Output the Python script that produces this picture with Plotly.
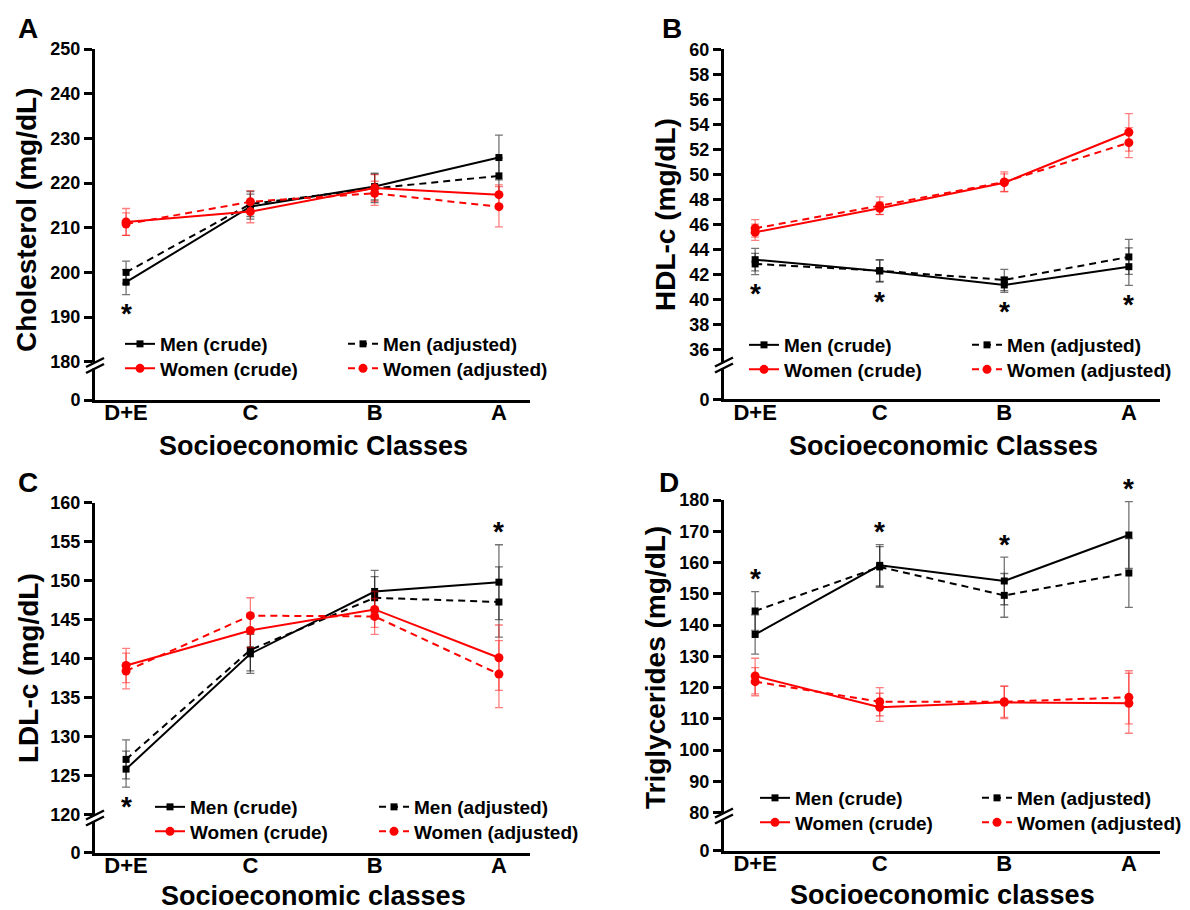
import plotly.graph_objects as go

W, H = 1190, 910

categories = ["D+E", "C", "B", "A"]
legend_names = ["Men (crude)", "Men (adjusted)", "Women (crude)", "Women (adjusted)"]

# ---- Panel A: Cholesterol ----
a_men_crude = [197.8, 214.7, 219.2, 225.7]
a_men_crude_err = [2.8, 2.8, 3.0, 5.0]
a_men_adj = [200.0, 215.3, 218.8, 221.6]
a_men_adj_err = [2.5, 2.8, 3.2, 4.0]
a_women_crude = [211.3, 213.6, 218.9, 217.4]
a_women_crude_err = [3.0, 2.5, 3.0, 2.2]
a_women_adj = [210.8, 215.8, 217.7, 214.7]
a_women_adj_err = [2.5, 2.5, 2.7, 4.5]
a_stars = ["below", None, None, None]

# ---- Panel B: HDL-c ----
b_men_crude = [43.17, 42.27, 41.15, 42.61]
b_men_crude_err = [0.9, 0.9, 0.6, 1.5]
b_men_adj = [42.83, 42.29, 41.55, 43.39]
b_men_adj_err = [0.85, 0.85, 0.85, 1.4]
b_women_crude = [45.36, 47.28, 49.33, 53.36]
b_women_crude_err = [0.65, 0.5, 0.7, 1.5]
b_women_adj = [45.68, 47.49, 49.39, 52.53]
b_women_adj_err = [0.7, 0.7, 0.8, 1.2]
b_stars = ["below", "below", "below", "below"]

# ---- Panel C: LDL-c ----
c_men_crude = [125.8, 140.6, 148.6, 149.8]
c_men_crude_err = [2.3, 2.5, 2.7, 4.8]
c_men_adj = [127.05, 141.1, 147.8, 147.25]
c_men_adj_err = [2.5, 2.7, 2.7, 4.5]
c_women_crude = [139.1, 143.6, 146.3, 140.1]
c_women_crude_err = [2.2, 2.2, 2.3, 4.2]
c_women_adj = [138.4, 145.5, 145.4, 138.0]
c_women_adj_err = [2.3, 2.3, 2.3, 4.3]
c_stars = ["below", None, None, "above"]

# ---- Panel D: Triglycerides ----
d_men_crude = [137.0, 159.1, 154.1, 168.8]
d_men_crude_err = [6.3, 6.6, 7.6, 10.7]
d_men_adj = [144.5, 158.6, 149.5, 156.65]
d_men_adj_err = [6.2, 6.5, 7.0, 11.0]
d_women_crude = [123.7, 113.7, 115.3, 115.0]
d_women_crude_err = [5.7, 4.5, 5.2, 9.6]
d_women_adj = [121.9, 115.5, 115.5, 116.9]
d_women_adj_err = [4.5, 4.5, 5.0, 8.5]
d_stars = ["above", "above", "above", "above"]

FONT = "Liberation Sans, Arial, sans-serif"
BLACK = "#000000"
RED = "#ff0000"


def px_x(p):
    return p / W


def px_y(p):
    return (H - p) / H


# layout geometry (pixels)
panels = [
    dict(letter="A", ytitle="Cholesterol (mg/dL)", xtitle="Socioeconomic Classes",
         data=(a_men_crude, a_men_crude_err, a_men_adj, a_men_adj_err,
               a_women_crude, a_women_crude_err, a_women_adj, a_women_adj_err),
         stars=a_stars, yr=(180, 250), dtick=10,
         x0=95, x1=530, ytop=49, ylow=361.7, yzero=400, brk=365.5,
         letter_xy=(16, 28), ytitle_xy=(26, 220), xtitle_xy=(313, 446),
         leg=[(120, 344), (343, 344)]),
    dict(letter="B", ytitle="HDL-c (mg/dL)", xtitle="Socioeconomic Classes",
         data=(b_men_crude, b_men_crude_err, b_men_adj, b_men_adj_err,
               b_women_crude, b_women_crude_err, b_women_adj, b_women_adj_err),
         stars=b_stars, yr=(36, 60), dtick=2,
         x0=724, x1=1160, ytop=49.3, ylow=349.3, yzero=399.3, brk=365,
         letter_xy=(660, 29), ytitle_xy=(665, 215), xtitle_xy=(943, 446),
         leg=[(744, 345), (967, 345)]),
    dict(letter="C", ytitle="LDL-c (mg/dL)", xtitle="Socioeconomic classes",
         data=(c_men_crude, c_men_crude_err, c_men_adj, c_men_adj_err,
               c_women_crude, c_women_crude_err, c_women_adj, c_women_adj_err),
         stars=c_stars, yr=(120, 160), dtick=5,
         x0=95, x1=530, ytop=502.7, ylow=814.3, yzero=852.7, brk=818,
         letter_xy=(16, 482), ytitle_xy=(28, 668), xtitle_xy=(313, 896),
         leg=[(150, 807), (374, 807)]),
    dict(letter="D", ytitle="Triglycerides (mg/dL)", xtitle="Socioeconomic classes",
         data=(d_men_crude, d_men_crude_err, d_men_adj, d_men_adj_err,
               d_women_crude, d_women_crude_err, d_women_adj, d_women_adj_err),
         stars=d_stars, yr=(80, 180), dtick=10,
         x0=724, x1=1160, ytop=500, ylow=812.7, yzero=850.7, brk=816,
         letter_xy=(657, 482), ytitle_xy=(655, 668), xtitle_xy=(942, 895),
         leg=[(755, 798), (977, 798)]),
]

ROW_GAP = 24.5  # pixel distance between legend rows

fig = go.Figure()
layout = dict(width=W, height=H, margin=dict(l=0, r=0, t=0, b=0),
              paper_bgcolor="white", plot_bgcolor="rgba(0,0,0,0)",
              font=dict(family=FONT, color=BLACK), showlegend=True)
annotations = []
shapes = []

styles = [
    dict(color=BLACK, dash="solid", symbol="square", size=7, ecol="rgba(0,0,0,0.55)"),
    dict(color=BLACK, dash="7px,5px", symbol="square", size=7, ecol="rgba(0,0,0,0.55)"),
    dict(color=RED, dash="solid", symbol="circle", size=9, ecol="rgba(255,0,0,0.5)"),
    dict(color=RED, dash="7px,5px", symbol="circle", size=9, ecol="rgba(255,0,0,0.5)"),
]
# legend cell (column, row) for each series
leg_cell = [(0, 0), (1, 0), (0, 1), (1, 1)]

for i, p in enumerate(panels):
    xa = "x" if i == 0 else f"x{i + 1}"
    yu_n = 2 * i + 1
    yl_n = 2 * i + 2
    yu = "y" if yu_n == 1 else f"y{yu_n}"
    yl = f"y{yl_n}"
    xkey = "xaxis" if i == 0 else f"xaxis{i + 1}"
    yukey = "yaxis" if yu_n == 1 else f"yaxis{yu_n}"
    ylkey = f"yaxis{yl_n}"

    layout[xkey] = dict(
        domain=[px_x(p["x0"]), px_x(p["x1"])], anchor=yl, type="category",
        categoryorder="array", categoryarray=categories, range=[-0.25, 3.25],
        showline=True, linecolor=BLACK, linewidth=3, ticks="", showgrid=False,
        zeroline=False, tickfont=dict(family=FONT, size=22, color=BLACK, weight="bold"),
        ticklabelstandoff=-9, automargin=False, fixedrange=True)
    layout[yukey] = dict(
        domain=[px_y(p["ylow"]), px_y(p["ytop"])], anchor=xa, range=list(p["yr"]),
        dtick=p["dtick"], tick0=p["yr"][0], showline=True, linecolor=BLACK, linewidth=3,
        ticks="outside", ticklen=8, tickwidth=3, tickcolor=BLACK, showgrid=False,
        zeroline=False, tickfont=dict(family=FONT, size=18, color=BLACK, weight="bold"),
        automargin=False, fixedrange=True)
    layout[ylkey] = dict(
        domain=[px_y(p["yzero"]), px_y(p["ylow"])], anchor=xa, range=[0, 1],
        tickvals=[0], ticktext=["0"], showline=True, linecolor=BLACK, linewidth=3,
        ticks="outside", ticklen=8, tickwidth=3, tickcolor=BLACK, showgrid=False,
        zeroline=False, tickfont=dict(family=FONT, size=18, color=BLACK, weight="bold"),
        automargin=False, fixedrange=True)

    # empty trace so the lower (0) segment of the broken axis exists as a subplot
    fig.add_trace(go.Scatter(x=categories, y=[None] * len(categories), xaxis=xa, yaxis=yl,
                             mode="markers", showlegend=False, hoverinfo="skip"))

    vals = p["data"]
    for k in range(4):
        st = styles[k]
        col, row = leg_cell[k]
        leg_idx = 4 * i + k + 1
        legname = "legend" if leg_idx == 1 else f"legend{leg_idx}"
        gx, gy = p["leg"][col]
        layout["legend" if leg_idx == 1 else f"legend{leg_idx}"] = dict(
            x=px_x(gx), y=px_y(gy + row * ROW_GAP), xref="paper", yref="paper",
            xanchor="left", yanchor="middle", bgcolor="rgba(0,0,0,0)", borderwidth=0,
            itemwidth=30,
            font=dict(family=FONT, size=19, color=BLACK, weight="bold"))
        fig.add_trace(go.Scatter(
            x=categories, y=vals[2 * k], xaxis=xa, yaxis=yu,
            name=legend_names[k], legend=legname, mode="lines+markers",
            line=dict(color=st["color"], width=2, dash=st["dash"]),
            marker=dict(symbol=st["symbol"], size=st["size"], color=st["color"]),
            error_y=dict(type="data", array=vals[2 * k + 1], visible=True,
                         color=st["ecol"], thickness=1.3, width=4),
            cliponaxis=False, hoverinfo="x+y+name"))

    # significance stars, positioned relative to the men's error bars
    for j, s in enumerate(p["stars"]):
        if s is None:
            continue
        if s == "below":
            yv = min(vals[0][j] - vals[1][j], vals[2][j] - vals[3][j])
            shift = -19
        else:
            yv = max(vals[0][j] + vals[1][j], vals[2][j] + vals[3][j])
            shift = 13
        annotations.append(dict(
            x=categories[j], y=yv, xref=xa, yref=yu, text="*", showarrow=False,
            yanchor="middle", xanchor="center", yshift=shift,
            font=dict(family=FONT, size=28, color=BLACK, weight="bold")))

    # panel letter
    lx, ly = p["letter_xy"]
    annotations.append(dict(x=px_x(lx), y=px_y(ly), xref="paper", yref="paper",
                            text=p["letter"], showarrow=False, xanchor="left", yanchor="middle",
                            font=dict(family=FONT, size=28, color=BLACK, weight="bold")))
    # axis titles
    tx, ty = p["ytitle_xy"]
    annotations.append(dict(x=px_x(tx), y=px_y(ty), xref="paper", yref="paper",
                            text=p["ytitle"], showarrow=False, textangle=-90,
                            xanchor="center", yanchor="middle",
                            font=dict(family=FONT, size=28, color=BLACK, weight="bold")))
    tx, ty = p["xtitle_xy"]
    annotations.append(dict(x=px_x(tx), y=px_y(ty), xref="paper", yref="paper",
                            text=p["xtitle"], showarrow=False,
                            xanchor="center", yanchor="middle",
                            font=dict(family=FONT, size=27, color=BLACK, weight="bold")))

    # axis break mark
    ax = p["x0"]
    yb = p["brk"]
    shapes.append(dict(type="rect", xref="paper", yref="paper",
                       x0=px_x(ax - 3), x1=px_x(ax + 3), y0=px_y(yb + 3), y1=px_y(yb - 3),
                       fillcolor="white", line=dict(width=0), layer="above"))
    for off in (-3, 3):
        shapes.append(dict(type="line", xref="paper", yref="paper",
                           x0=px_x(ax - 9), y0=px_y(yb + off + 4.5),
                           x1=px_x(ax + 9), y1=px_y(yb + off - 4.5),
                           line=dict(color=BLACK, width=2.5), layer="above"))

layout["annotations"] = annotations
layout["shapes"] = shapes
fig.update_layout(**layout)
fig.write_html("out.html")
